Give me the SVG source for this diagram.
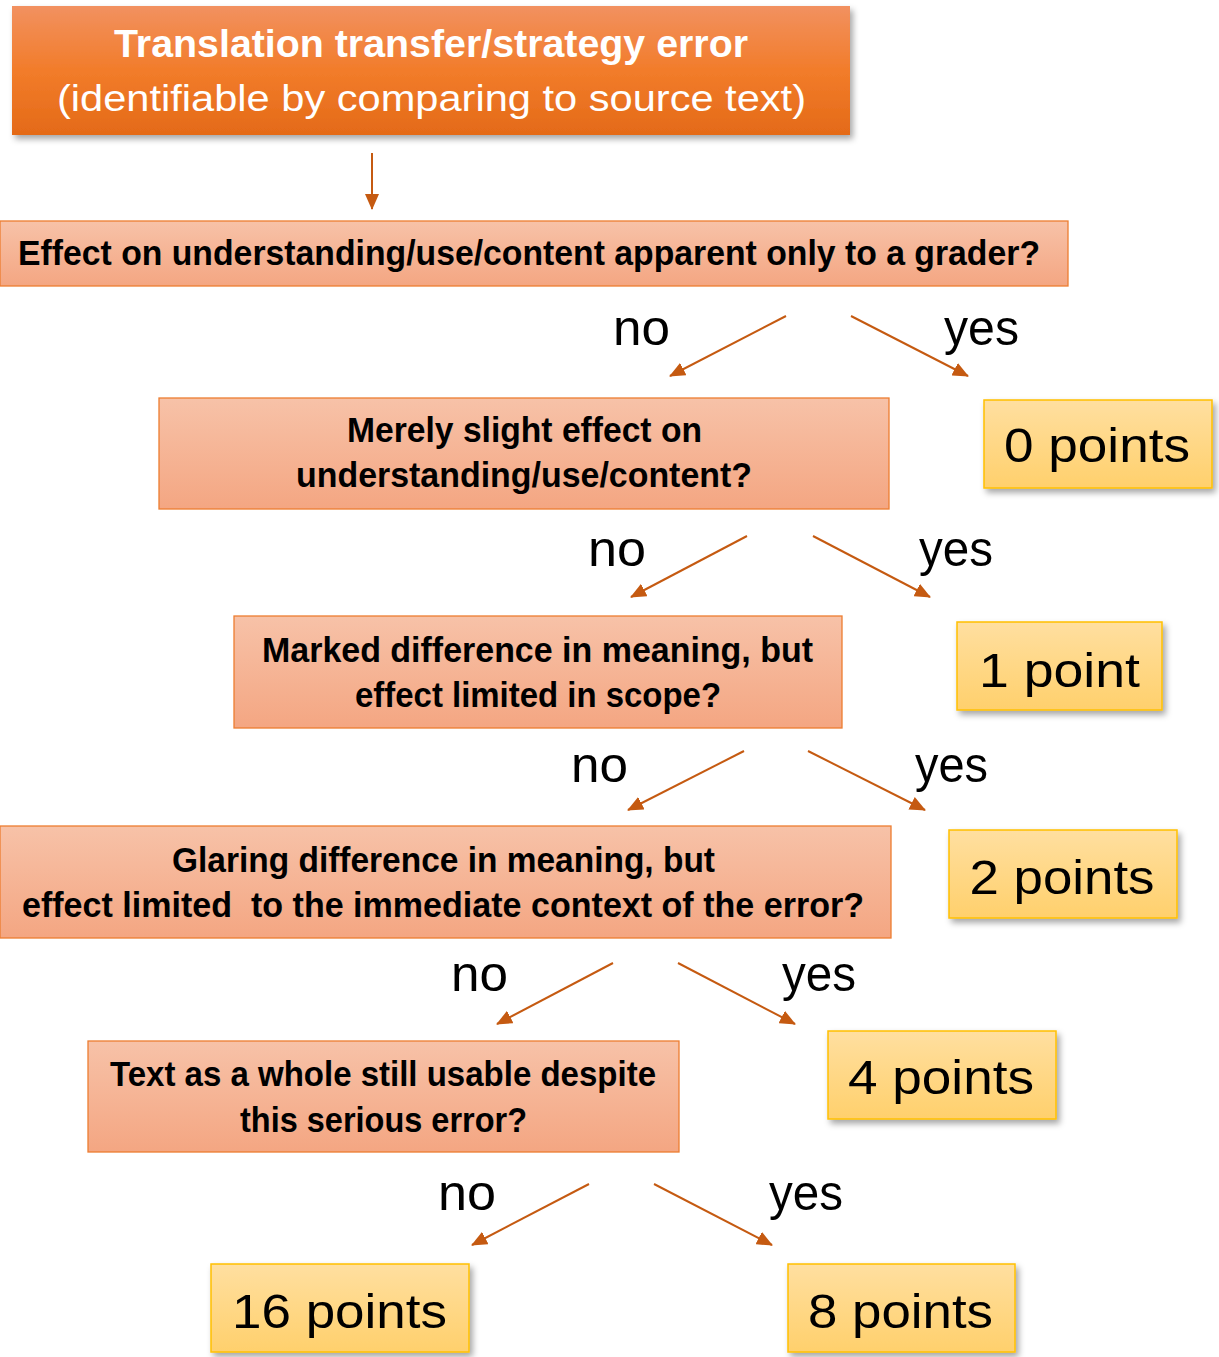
<svg xmlns="http://www.w3.org/2000/svg" width="1219" height="1357" viewBox="0 0 1219 1357">
<defs>
  <linearGradient id="gTop" x1="0" y1="0" x2="0" y2="1">
    <stop offset="0" stop-color="#F29160"/>
    <stop offset="0.5" stop-color="#F27C2A"/>
    <stop offset="1" stop-color="#E46A18"/>
  </linearGradient>
  <linearGradient id="gQ" x1="0" y1="0" x2="0" y2="1">
    <stop offset="0" stop-color="#F7C2A8"/>
    <stop offset="1" stop-color="#F4A682"/>
  </linearGradient>
  <linearGradient id="gY" x1="0" y1="0" x2="0" y2="1">
    <stop offset="0" stop-color="#FFDFA0"/>
    <stop offset="1" stop-color="#FFD06C"/>
  </linearGradient>
  <filter id="sh" x="-10%" y="-20%" width="125%" height="150%">
    <feDropShadow dx="3" dy="4" stdDeviation="3" flood-color="#000" flood-opacity="0.35"/>
  </filter>
  <marker id="ah" viewBox="0 0 16 14" refX="15" refY="7" markerWidth="16" markerHeight="14" markerUnits="userSpaceOnUse" orient="auto">
    <path d="M0,0 L16,7 L0,14 z" fill="#C55A11"/>
  </marker>
</defs>
<style>
  .top { fill: url(#gTop); filter: url(#sh); }
  .q { fill: url(#gQ); stroke: #ED7D31; stroke-width: 1.3; }
  .y { fill: url(#gY); stroke: #FFC000; stroke-width: 1.5; filter: url(#sh); }
  .tw { font-family: "Liberation Sans", "Open Sans", sans-serif; fill: #fff; text-anchor: middle; }
  .tb { font-family: "Liberation Sans", "Open Sans", sans-serif; font-weight: bold; fill: #000; text-anchor: middle; font-size: 35px; }
  .tp { font-family: "Liberation Sans", "Open Sans", sans-serif; fill: #000; text-anchor: middle; font-size: 49px; }
  .lb { font-family: "Liberation Sans", "Open Sans", sans-serif; fill: #000; font-size: 50px; }
  .c line { stroke: #C55A11; stroke-width: 2; marker-end: url(#ah); }
</style>

<g id="n-start">
  <rect class="top" x="12" y="6" width="838" height="129"/>
  <text class="tw" x="431" y="57" font-size="39" font-weight="bold" textLength="634" lengthAdjust="spacingAndGlyphs">Translation transfer/strategy error</text>
  <text class="tw" x="431.5" y="111" font-size="37" textLength="749" lengthAdjust="spacingAndGlyphs">(identifiable by comparing to source text)</text>
</g>

<g id="n-q1">
  <rect class="q" x="0" y="221" width="1068" height="65"/>
  <text class="tb" x="529" y="265" textLength="1022" lengthAdjust="spacingAndGlyphs">Effect on understanding/use/content apparent only to a grader?</text>
</g>

<g id="n-q2">
  <rect class="q" x="159" y="398" width="730" height="111"/>
  <text class="tb" x="524.5" y="442" textLength="355" lengthAdjust="spacingAndGlyphs">Merely slight effect on</text>
  <text class="tb" x="524" y="487" textLength="456" lengthAdjust="spacingAndGlyphs">understanding/use/content?</text>
</g>

<g id="n-q3">
  <rect class="q" x="234" y="616" width="608" height="112"/>
  <text class="tb" x="537.5" y="662" textLength="551" lengthAdjust="spacingAndGlyphs">Marked difference in meaning, but</text>
  <text class="tb" x="538" y="707" textLength="366" lengthAdjust="spacingAndGlyphs">effect limited in scope?</text>
</g>

<g id="n-q4">
  <rect class="q" x="0" y="826" width="891" height="112"/>
  <text class="tb" x="443.5" y="872" textLength="543" lengthAdjust="spacingAndGlyphs">Glaring difference in meaning, but</text>
  <text class="tb" x="443" y="917" textLength="842" lengthAdjust="spacingAndGlyphs" xml:space="preserve">effect limited  to the immediate context of the error?</text>
</g>

<g id="n-q5">
  <rect class="q" x="88" y="1041" width="591" height="111"/>
  <text class="tb" x="383" y="1086" textLength="546" lengthAdjust="spacingAndGlyphs">Text as a whole still usable despite</text>
  <text class="tb" x="383.5" y="1132" textLength="287" lengthAdjust="spacingAndGlyphs">this serious error?</text>
</g>

<g id="n-p0">
  <rect class="y" x="984" y="400" width="228" height="88"/>
  <text class="tp" x="1097" y="462" textLength="186" lengthAdjust="spacingAndGlyphs">0 points</text>
</g>
<g id="n-p1">
  <rect class="y" x="957" y="622" width="205" height="88"/>
  <text class="tp" x="1059.5" y="687" textLength="161" lengthAdjust="spacingAndGlyphs">1 point</text>
</g>
<g id="n-p2">
  <rect class="y" x="949" y="830" width="228" height="88"/>
  <text class="tp" x="1062" y="894" textLength="185" lengthAdjust="spacingAndGlyphs">2 points</text>
</g>
<g id="n-p4">
  <rect class="y" x="828" y="1031" width="228" height="88"/>
  <text class="tp" x="941" y="1094" textLength="186" lengthAdjust="spacingAndGlyphs">4 points</text>
</g>
<g id="n-p16">
  <rect class="y" x="211" y="1264" width="258" height="88"/>
  <text class="tp" x="339.5" y="1328" textLength="215" lengthAdjust="spacingAndGlyphs">16 points</text>
</g>
<g id="n-p8">
  <rect class="y" x="788" y="1264" width="227" height="88"/>
  <text class="tp" x="900.5" y="1328" textLength="185" lengthAdjust="spacingAndGlyphs">8 points</text>
</g>

<g id="connectors" class="c">
  <line x1="372" y1="153" x2="372" y2="209"/>
  <line x1="786" y1="316" x2="670" y2="376"/>
  <line x1="851" y1="316" x2="968" y2="376"/>
  <line x1="747" y1="536" x2="631" y2="597"/>
  <line x1="813" y1="536" x2="930" y2="597"/>
  <line x1="744" y1="751" x2="628" y2="810"/>
  <line x1="808" y1="751" x2="925" y2="810"/>
  <line x1="613" y1="963" x2="497" y2="1024"/>
  <line x1="678" y1="963" x2="795" y2="1024"/>
  <line x1="589" y1="1184" x2="472" y2="1245"/>
  <line x1="654" y1="1184" x2="772" y2="1245"/>
</g>

<g id="labels">
  <text class="lb" x="613" y="345" textLength="57" lengthAdjust="spacingAndGlyphs">no</text>
  <text class="lb" x="944" y="345" textLength="75" lengthAdjust="spacingAndGlyphs">yes</text>
  <text class="lb" x="588" y="566" textLength="58" lengthAdjust="spacingAndGlyphs">no</text>
  <text class="lb" x="919" y="566" textLength="74" lengthAdjust="spacingAndGlyphs">yes</text>
  <text class="lb" x="571" y="782" textLength="57" lengthAdjust="spacingAndGlyphs">no</text>
  <text class="lb" x="915" y="782" textLength="73" lengthAdjust="spacingAndGlyphs">yes</text>
  <text class="lb" x="451" y="991" textLength="57" lengthAdjust="spacingAndGlyphs">no</text>
  <text class="lb" x="782" y="991" textLength="74" lengthAdjust="spacingAndGlyphs">yes</text>
  <text class="lb" x="438" y="1210" textLength="58" lengthAdjust="spacingAndGlyphs">no</text>
  <text class="lb" x="769" y="1210" textLength="74" lengthAdjust="spacingAndGlyphs">yes</text>
</g>
</svg>
